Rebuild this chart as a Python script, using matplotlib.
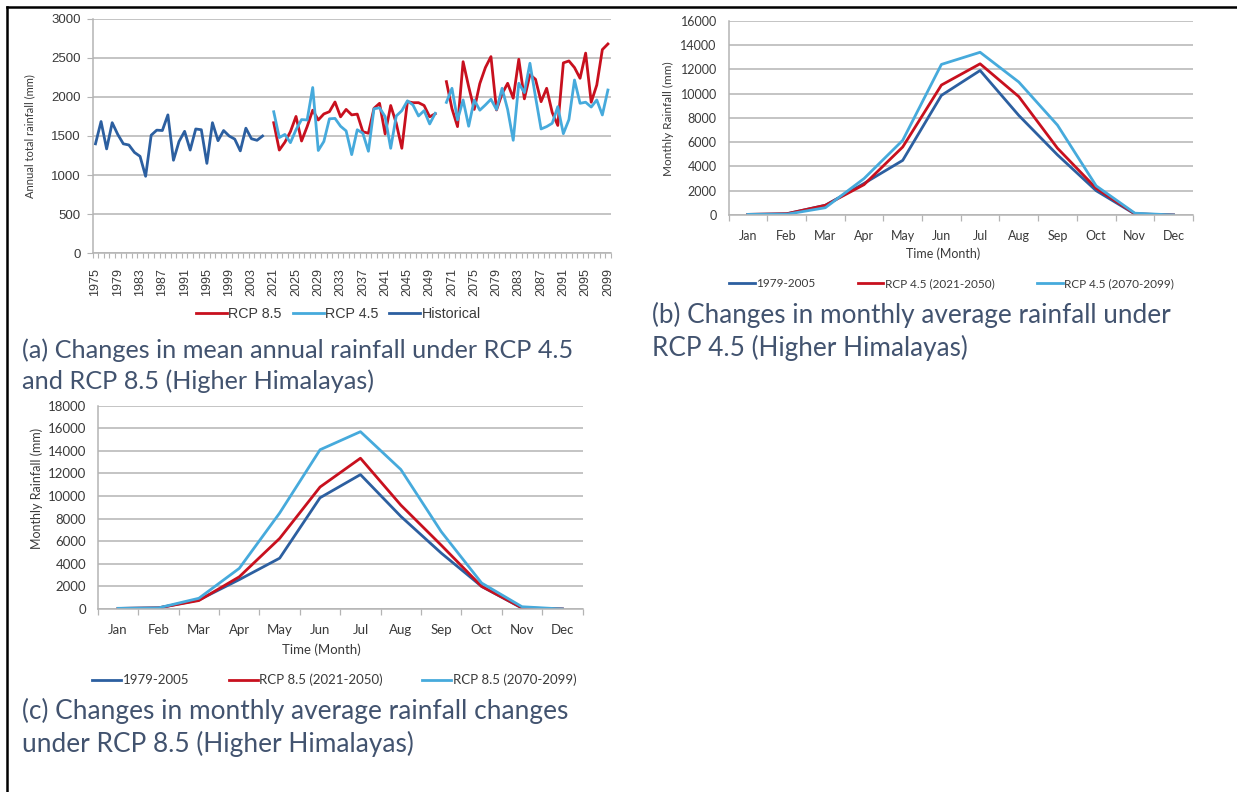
import matplotlib
matplotlib.use('Agg')
import matplotlib.pyplot as plt
from matplotlib.lines import Line2D
import numpy as np

# ---------------- data ----------------
hist_years = [str(y) for y in range(1975, 2007)]
near_years = [str(y) for y in range(2021, 2051)]
far_years = [str(y) for y in range(2070, 2100)]
categories_a = hist_years + near_years + [''] + far_years

historical_years = [str(y) for y in range(1975, 2006)]
historical = [1400, 1685, 1335, 1670, 1520, 1400, 1385, 1290, 1240, 985,
              1510, 1575, 1570, 1770, 1190, 1430, 1560, 1320, 1590, 1580,
              1150, 1670, 1440, 1570, 1500, 1460, 1310, 1600, 1465, 1445, 1500]

rcp85_near = [1670, 1320, 1420, 1556, 1750, 1436, 1620, 1830, 1705, 1782,
              1811, 1935, 1745, 1840, 1770, 1780, 1555, 1535, 1854, 1918,
              1526, 1890, 1663, 1343, 1939, 1926, 1926, 1890, 1745, 1785]
rcp45_near = [1810, 1480, 1520, 1415, 1580, 1710, 1705, 2120, 1315, 1430,
              1720, 1725, 1625, 1565, 1262, 1580, 1535, 1305, 1848, 1860,
              1748, 1343, 1756, 1824, 1950, 1897, 1756, 1824, 1654, 1790]
rcp85_far = [2195, 1850, 1620, 2450, 2131, 1840, 2170, 2375, 2515, 1833,
             2040, 2174, 1983, 2481, 1975, 2285, 2225, 1939, 2110, 1800,
             1635, 2435, 2460, 2375, 2238, 2560, 1932, 2152, 2605, 2677]
rcp45_far = [1930, 2110, 1705, 1961, 1625, 1961, 1830, 1897, 1970, 1838,
             2110, 1838, 1445, 2174, 2055, 2430, 2000, 1590, 1620, 1663,
             1875, 1530, 1710, 2216, 1918, 1932, 1870, 1961, 1769, 2088]

months = ['Jan', 'Feb', 'Mar', 'Apr', 'May', 'Jun', 'Jul', 'Aug', 'Sep', 'Oct', 'Nov', 'Dec']
baseline_1979_2005 = [50, 100, 800, 2600, 4500, 9850, 11900, 8200, 4950, 2000, 80, 0]
rcp45_2021_2050 = [50, 100, 800, 2500, 5600, 10700, 12450, 9750, 5500, 2200, 100, 0]
rcp45_2070_2099 = [50, 60, 600, 3000, 6150, 12400, 13400, 10950, 7400, 2400, 150, 0]
rcp85_2021_2050 = [50, 100, 750, 2850, 6250, 10800, 13350, 9200, 5650, 2000, 100, 0]
rcp85_2070_2099 = [60, 100, 950, 3600, 8500, 14100, 15700, 12350, 6850, 2300, 200, 0]

captions = {
    'a': ['(a) Changes in mean annual rainfall under RCP 4.5',
          'and RCP 8.5 (Higher Himalayas)'],
    'b': ['(b) Changes in monthly average rainfall under',
          'RCP 4.5 (Higher Himalayas)'],
    'c': ['(c) Changes in monthly average rainfall changes',
          'under RCP 8.5 (Higher Himalayas)'],
}

# ---------------- style ----------------
DBLUE = '#2C5FA0'
RED = '#C8101E'
LBLUE = '#46AADC'
GRID = '#B4B4B4'
TXT = '#3A3A3A'
CAP = '#42536F'
LW = 2.0

W, H = 1237, 792
fig = plt.figure(figsize=(W / 100, H / 100), dpi=100)
fig.patch.set_facecolor('white')


def add_ax(l, t, r, b):
    return fig.add_axes([l / W, 1 - b / H, (r - l) / W, (b - t) / H])


def fx(x):
    return x / W


def fy(y):
    return 1 - y / H


def style_axes(ax):
    for s in ['top', 'right']:
        ax.spines[s].set_visible(False)
    for s in ['left', 'bottom']:
        ax.spines[s].set_color(GRID)
        ax.spines[s].set_linewidth(1.1)
    ax.yaxis.grid(True, color=GRID, lw=1.1)
    ax.set_axisbelow(True)


# ---------------- panel (a) ----------------
axa = add_ax(92.7, 18.7, 610.7, 253.3)
style_axes(axa)
pos = {c: i for i, c in enumerate(categories_a) if c}
xh = [pos[y] for y in historical_years]
xn = [pos[y] for y in near_years]
xf = [pos[y] for y in far_years]
axa.plot(xn, rcp85_near, color=RED, lw=LW)
axa.plot(xf, rcp85_far, color=RED, lw=LW)
axa.plot(xn, rcp45_near, color=LBLUE, lw=LW)
axa.plot(xf, rcp45_far, color=LBLUE, lw=LW)
axa.plot(xh, historical, color=DBLUE, lw=LW)
n = len(categories_a)
axa.set_xlim(-0.5, n - 0.5)
axa.set_ylim(0, 3000)
axa.set_yticks(range(0, 3001, 500))
major = list(range(0, n, 4))
axa.set_xticks(major)
axa.set_xticklabels([categories_a[i] for i in major], rotation=90,
                    family='Liberation Sans', fontsize=9, color=TXT)
axa.set_xticks(np.arange(-0.5, n, 1), minor=True)
axa.tick_params(axis='x', which='major', length=0, pad=10.5)
axa.tick_params(axis='x', which='minor', length=3.5, color=GRID, width=0.8)
axa.tick_params(axis='y', length=4, color=GRID, pad=4.5, labelsize=9.5, labelcolor=TXT)
for lab in axa.get_yticklabels():
    lab.set_family('Liberation Sans')
fig.text(fx(30), fy(136), 'Annual total rainfall (mm)', rotation=90, ha='center', va='center',
         family='Lato', fontsize=8, color=TXT)

h_a = [Line2D([], [], color=RED, lw=LW), Line2D([], [], color=LBLUE, lw=LW),
       Line2D([], [], color=DBLUE, lw=LW)]
fig.legend(h_a, ['RCP 8.5', 'RCP 4.5', 'Historical'], loc='center left',
           bbox_to_anchor=(fx(196), fy(314)), ncol=3, frameon=False,
           prop={'family': 'Liberation Sans', 'size': 10.3}, handlelength=2.17,
           handletextpad=0.1, columnspacing=0.75, borderpad=0, borderaxespad=0,
           labelcolor=TXT)


# ---------------- monthly panels ----------------
def monthly(ax, series, ymax, fs_tick):
    style_axes(ax)
    x = np.arange(len(months))
    for vals, col in zip(series, [DBLUE, RED, LBLUE]):
        ax.plot(x, vals, color=col, lw=LW)
    ax.set_xlim(-0.5, len(months) - 0.5)
    ax.set_ylim(0, ymax)
    ax.set_yticks(range(0, ymax + 1, 2000))
    ax.set_xticks(x)
    ax.set_xticklabels(months, family='Lato', fontsize=fs_tick, color=TXT)
    ax.set_xticks(np.arange(-0.5, len(months), 1), minor=True)
    ax.tick_params(axis='x', which='major', length=0, pad=10.5)
    ax.tick_params(axis='x', which='minor', length=4, color=GRID, width=0.9)
    ax.tick_params(axis='y', length=0, pad=8.5, labelsize=fs_tick, labelcolor=TXT)
    for lab in ax.get_yticklabels():
        lab.set_family('Lato')


axb = add_ax(728.6, 20.7, 1192.9, 215)
monthly(axb, [baseline_1979_2005, rcp45_2021_2050, rcp45_2070_2099], 16000, 9)
fig.text(fx(668.6), fy(119), 'Monthly Rainfall (mm)', rotation=90, ha='center', va='center',
         family='Lato', fontsize=8.5, color=TXT)
fig.text(fx(943.6), fy(254), 'Time (Month)', ha='center', va='center',
         family='Lato', fontsize=9, color=TXT)
h_m = [Line2D([], [], color=DBLUE, lw=LW), Line2D([], [], color=RED, lw=LW),
       Line2D([], [], color=LBLUE, lw=LW)]
fig.legend(h_m, ['1979-2005', 'RCP 4.5 (2021-2050)', 'RCP 4.5 (2070-2099)'], loc='center left',
           bbox_to_anchor=(fx(728.6), fy(283.3)), ncol=3, frameon=False,
           prop={'family': 'Lato', 'size': 8.5}, handlelength=2.2,
           handletextpad=0.1, columnspacing=3.6, borderpad=0, borderaxespad=0,
           labelcolor=TXT)

axc = add_ax(97.9, 405.7, 582.6, 609)
monthly(axc, [baseline_1979_2005, rcp85_2021_2050, rcp85_2070_2099], 18000, 9.5)
fig.text(fx(36.5), fy(488), 'Monthly Rainfall (mm)', rotation=90, ha='center', va='center',
         family='Lato', fontsize=9, color=TXT)
fig.text(fx(321.8), fy(649.3), 'Time (Month)', ha='center', va='center',
         family='Lato', fontsize=9.5, color=TXT)
fig.legend(h_m, ['1979-2005', 'RCP 8.5 (2021-2050)', 'RCP 8.5 (2070-2099)'], loc='center left',
           bbox_to_anchor=(fx(92.2), fy(680)), ncol=3, frameon=False,
           prop={'family': 'Lato', 'size': 9.5}, handlelength=2.2,
           handletextpad=0.1, columnspacing=3.0, borderpad=0, borderaxespad=0,
           labelcolor=TXT)

# ---------------- captions ----------------
renderer = fig.canvas.get_renderer()


def caption(lines, x, y1, y2, target_w):
    t = fig.text(fx(x), fy(y1), lines[0], ha='left', va='center', family='Lato',
                 fontsize=16, color=CAP)
    w = t.get_window_extent(renderer).width
    fs = 16 * target_w / w
    t.set_fontsize(fs)
    fig.text(fx(x), fy(y2), lines[1], ha='left', va='center', family='Lato',
             fontsize=fs, color=CAP)


caption(captions['a'], 22, 350, 381, 555)
caption(captions['b'], 652, 315, 348, 522)
caption(captions['c'], 22, 711, 744, 547)

# ---------------- frame ----------------
fig.add_artist(Line2D([fx(7.5), fx(W + 5)], [fy(6.5), fy(6.5)], color='black', lw=1.8))
fig.add_artist(Line2D([fx(7.5), fx(7.5)], [fy(6.5), fy(H + 5)], color='black', lw=1.8))

fig.savefig('out.png', dpi=100)
